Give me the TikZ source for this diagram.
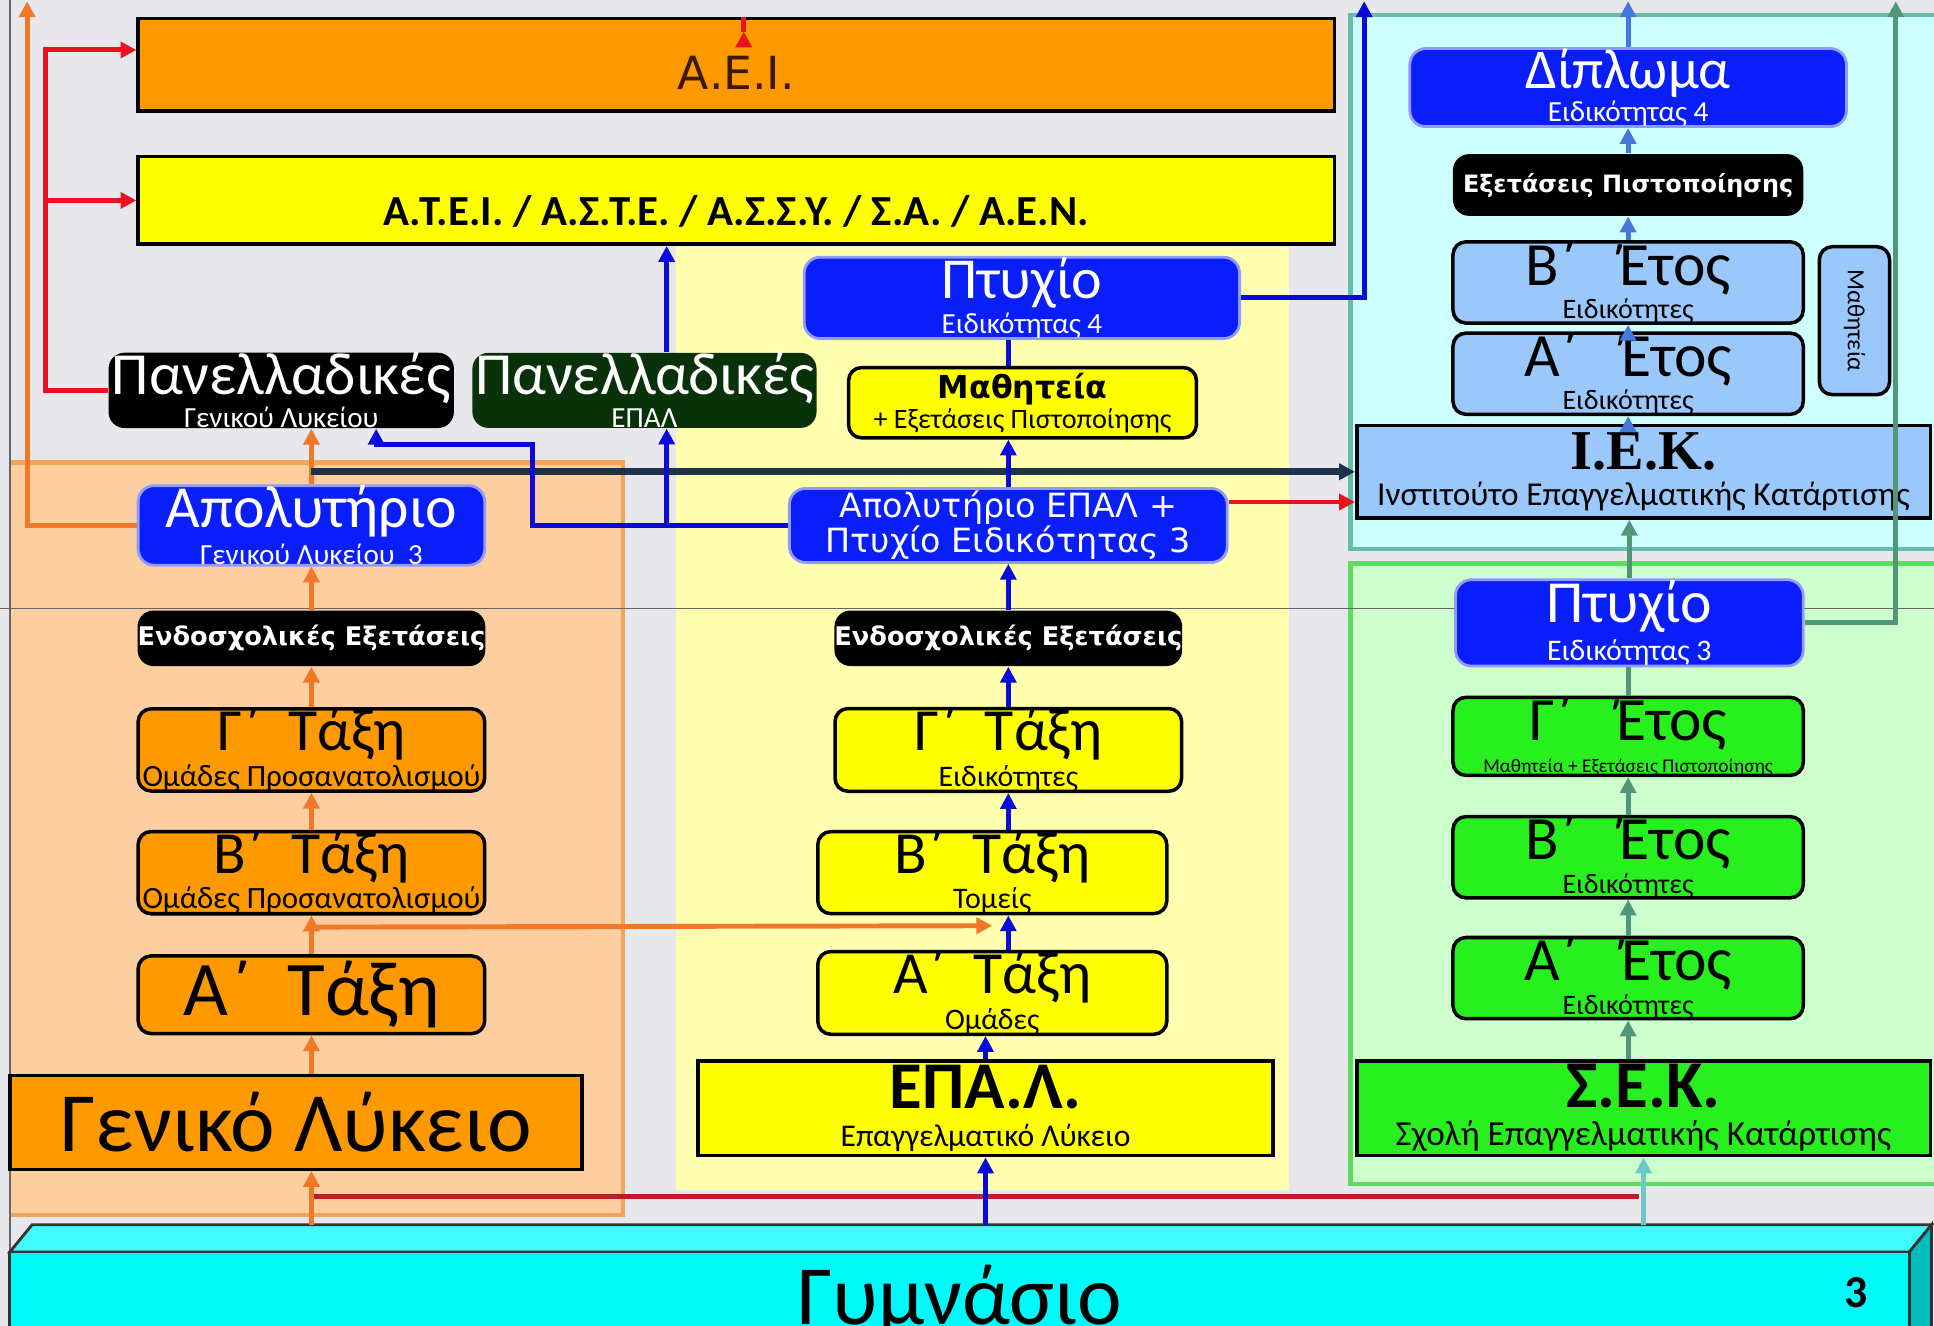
\documentclass[tikz,border=0pt]{standalone}
\usepackage{fontspec}
\setmainfont{Carlito}
\newfontfamily\dejavu{DejaVu Sans}
\newfontfamily\serifb{Liberation Serif}
\usetikzlibrary{positioning,calc,arrows.meta}

\definecolor{bgray}{RGB}{232,232,236}
\definecolor{peach}{RGB}{252,206,160}
\definecolor{peachedge}{RGB}{240,165,90}
\definecolor{lyellow}{RGB}{255,255,175}
\definecolor{lcyan}{RGB}{205,255,255}
\definecolor{cyanedge}{RGB}{100,190,170}
\definecolor{lgreen}{RGB}{205,255,205}
\definecolor{greenedge}{RGB}{95,220,95}
\definecolor{boxorange}{RGB}{255,153,0}
\definecolor{boxyellow}{RGB}{255,255,0}
\definecolor{boxblue}{RGB}{10,30,250}
\definecolor{boxgreen}{RGB}{40,240,30}
\definecolor{boxlblue}{RGB}{155,200,250}
\definecolor{pangreen}{RGB}{10,50,10}
\definecolor{arrorange}{RGB}{240,120,40}
\definecolor{arrblue}{RGB}{10,10,220}
\definecolor{arrred}{RGB}{230,20,30}
\definecolor{arrnavy}{RGB}{30,50,75}
\definecolor{arrteal}{RGB}{80,150,120}
\definecolor{arrsky}{RGB}{70,120,220}
\definecolor{arrlteal}{RGB}{110,200,200}
\definecolor{gymcyan}{RGB}{0,250,250}
\definecolor{rline}{RGB}{190,30,40}

\def\ux{0.12334mm}
\newcommand{\fs}[1]{\fontsize{#1}{#1}\selectfont}

\tikzset{
  base/.style={inner sep=0pt, align=center, font=\fs{9}},
  sz/.style 2 args={minimum width=#1*\ux, minimum height=#2*\ux},
  sq/.style={base, draw=black, line width=1pt},
  rb/.style={sq, rounded corners=1.3mm},
  bluebox/.style={base, fill=boxblue, draw=white!55!boxblue, line width=0.8pt, rounded corners=1.6mm, text=white},
  blackbox/.style={base, fill=black, rounded corners=1.6mm, text=white},
  low/.style={text height=14pt, text depth=0pt},
  arr/.style={line width=1.4pt, -{Triangle[length=4.5pt,width=4.5pt]}},
  oarr/.style={arr, arrorange},
  barr/.style={arr, arrblue},
  rarr/.style={arr, arrred},
  narr/.style={arr, arrnavy, line width=2pt},
  tarr/.style={arr, arrteal},
  sarr/.style={arr, arrsky},
  larr/.style={arr, arrlteal},
}

\begin{document}
\begin{tikzpicture}[x=0.12334mm, y=-0.12334mm]
\clip (0,0) rectangle (1568,1075);
% background and coloured regions
\fill[bgray] (0,0) rectangle (1568,1075);
\fill[peach] (8,375) rectangle (505,985);
\draw[peachedge, line width=1.2pt] (8,375) -- (505,375) -- (505,985) -- (8,985);
\fill[lyellow] (548,200) rectangle (1045,965);
\filldraw[fill=lcyan, draw=cyanedge, line width=1.3pt] (1095,12) rectangle (1575,445);
\filldraw[fill=lgreen, draw=greenedge, line width=1.3pt] (1095,457) rectangle (1575,960);
\draw[black!60, very thin] (0,493) -- (1568,493);
\draw[black!60, thin] (8,0) -- (8,1075);

% Gymnasio block
\filldraw[fill=gymcyan!75!white, draw=black!80, line width=0.8pt] (8,1015) -- (26,993) -- (1566,993) -- (1548,1015) -- cycle;
\filldraw[fill=gymcyan!75!black, draw=black!80, line width=0.8pt] (1548,1015) -- (1566,993) -- (1566,1085) -- (1548,1085) -- cycle;
\node[sq, fill=gymcyan, draw=black!80, line width=0.8pt, sz={1540}{70}, text height=17pt, text depth=0pt] (gym) at (778,1050) {\fs{24}Γυμνάσιο};
\coordinate (gymtop) at (26,993);
\node[font=\bfseries\fs{13}] (page) at (1505,1048) {3};

% top
\node[sq, fill=boxorange, sz={970}{75}, low, text={rgb,255:red,60;green,25;blue,0}] (aei) at (597,52.5) {\dejavu\fs{13}Α.Ε.Ι.};
\node[sq, fill=boxyellow, sz={970}{71}, low] (atei) at (597,162.5) {\bfseries\fs{12.2}Α.Τ.Ε.Ι. / Α.Σ.Τ.Ε. / Α.Σ.Σ.Υ. / Σ.Α. / Α.Ε.Ν.};

\coordinate (rl) at ($(gymtop -| aei.west)+(140,-23)$);
\draw[rline, line width=1.5pt] (rl) -- ++(1078,0);

% Geniko Lykeio
\node[blackbox, sz={280}{57}] (pgl) at (228,316.5) {{\fs{17}Πανελλαδικές}\\[0.4pt]{\fs{8.3}Γενικού Λυκείου}};
\node[blackbox, fill=pangreen, sz={279}{57}] (pepal) at (522.5,316.5) {{\fs{17}Πανελλαδικές}\\[0.4pt]{\fs{8.3}ΕΠΑΛ}};
\node[bluebox, sz={281}{60}] (apgl) at (252.5,426) {{\fs{17}Απολυτήριο}\\[1.6pt]{\fs{8.3}Γενικού Λυκείου \ 3}};
\node[blackbox, sz={281}{45}] (endgl) at (252.5,517.5) {\dejavu\bfseries\fs{7.3}Ενδοσχολικές Εξετάσεις};
\node[rb, fill=boxorange, sz={281}{60}] (gtgl) at (252.5,608) {{\fs{17}Γ΄\ \ Τάξη}\\[1pt]{\fs{8.8}Ομάδες Προσανατολισμού}};
\node[rb, fill=boxorange, sz={281}{61}] (btgl) at (252.5,707.5) {{\fs{17}Β΄\ \ Τάξη}\\[1pt]{\fs{8.8}Ομάδες Προσανατολισμού}};
\node[rb, fill=boxorange, sz={281}{63}] (atgl) at (252.5,806.5) {\fs{22}Α΄\ \ Τάξη};
\node[sq, fill=boxorange, sz={464}{76}] (gl) at (240,910) {\fs{24}Γενικό Λύκειο};

% EPAL
\node[bluebox, sz={353}{57}] (pt4) at (828.5,241.5) {{\fs{16.5}Πτυχίο}\\[1.2pt]{\fs{8.3}Ειδικότητας 4}};
\node[rb, fill=boxyellow, sz={282}{57}] (math) at (829,326.5) {{\dejavu\bfseries\fs{9}Μαθητεία}\\[-0.5pt]{\fs{8}+ Εξετάσεις Πιστοποίησης}};
\node[bluebox, sz={355}{60}, font=\dejavu\fs{9.5}] (apepal) at (817.5,426) {Απολυτήριο ΕΠΑΛ +\\[-0.5pt]Πτυχίο Ειδικότητας 3};
\node[blackbox, sz={281}{45}] (endep) at (817.5,517.5) {\dejavu\bfseries\fs{7.3}Ενδοσχολικές Εξετάσεις};
\node[rb, fill=boxyellow, sz={281}{60}] (gtep) at (817.5,608) {{\fs{17}Γ΄\ \ Τάξη}\\[1.2pt]{\fs{8.5}Ειδικότητες}};
\node[rb, fill=boxyellow, sz={283}{61}] (btep) at (804.5,707.5) {{\fs{17}Β΄\ \ Τάξη}\\[1pt]{\fs{8.5}Τομείς}};
\node[rb, fill=boxyellow, sz={283}{60}] (atep) at (804.5,805) {{\fs{17}Α΄\ \ Τάξη}\\[1.2pt]{\fs{8.5}Ομάδες}};
\node[sq, fill=boxyellow, sz={466}{77}] (epal) at (799,898.5) {{\bfseries\fs{19}ΕΠΑ.Λ.}\\[1.8pt]{\fs{9}Επαγγελματικό Λύκειο}};

% IEK
\node[bluebox, sz={354}{58}] (dipl) at (1320,71) {{\fs{16}Δίπλωμα}\\[0.6pt]{\fs{8.3}Ειδικότητας 4}};
\node[blackbox, sz={284}{50}] (exam) at (1320,150) {\dejavu\bfseries\fs{6.8}Εξετάσεις Πιστοποίησης};
\node[rb, fill=boxlblue, sz={284}{58}] (betos) at (1320,229) {{\fs{17.5}Β΄\ \ \ Έτος}\\[0.5pt]{\fs{8}Ειδικότητες}};
\node[rb, fill=boxlblue, sz={284}{60}] (aetos) at (1320,303) {{\fs{17.5}Α΄\ \ \ Έτος}\\[0.5pt]{\fs{8}Ειδικότητες}};
\node[rb, fill=boxlblue, sz={120}{57}, rotate=-90] (mathv) at (1503.5,260) {\fs{7}Μαθητεία};
\node[sq, fill=boxlblue, sz={465}{75}] (iek) at (1332.5,382.5) {{\serifb\bfseries\fs{16}Ι.Ε.Κ.}\\[1pt]{\fs{9.5}Ινστιτούτο Επαγγελματικής Κατάρτισης}};

% SEK
\node[bluebox, sz={282}{70}] (pt3) at (1321,505) {{\fs{17}Πτυχίο}\\[2pt]{\fs{8.5}Ειδικότητας 3}};
\node[rb, fill=boxgreen, sz={284}{60}] (gsek) at (1320,597) {{\fs{17.5}Γ΄\ \ \ Έτος}\\[0pt]{\fs{5.5}Μαθητεία + Εξετάσεις Πιστοποίησης}};
\node[rb, fill=boxgreen, sz={284}{60}] (bsek) at (1320,695) {{\fs{17.5}Β΄\ \ \ Έτος}\\[0.5pt]{\fs{8}Ειδικότητες}};
\node[rb, fill=boxgreen, sz={284}{60}] (asek) at (1320,793) {{\fs{17.5}Α΄\ \ \ Έτος}\\[0.5pt]{\fs{8}Ειδικότητες}};
\node[sq, fill=boxgreen, sz={465}{77}] (sek) at (1332.5,898.5) {{\bfseries\fs{19}Σ.Ε.Κ.}\\[1.8pt]{\fs{10}Σχολή Επαγγελματικής Κατάρτισης}};

% exits at the top
\coordinate (topL) at (22,1);
\coordinate (topB) at (1106,1);
\coordinate (topG) at (1537,1);
\coordinate (rj) at ($(aei.west)+(-74,-12)$);

% Geniko Lykeio arrows
\draw[oarr] (gymtop -| atgl) -- (gl.south -| atgl);
\draw[oarr] (gl.north -| atgl) -- (atgl.south);
\draw[oarr] (atgl.north) -- (btgl.south);
\draw[oarr] (btgl.north) -- (gtgl.south);
\draw[oarr] (gtgl.north) -- (endgl.south);
\draw[oarr] (endgl.north) -- (apgl.south);
\draw[oarr] (apgl.north) -- (apgl.north |- pgl.south);
\draw[oarr] ($(btgl.south)!.3!(atgl.north)$) -- ($(btep.south)!.3!(atep.north)$);
\draw[oarr] (apgl.west) -| (topL);
\draw[rarr] (pgl.west) -| (rj) -- (rj -| aei.west);
\draw[rarr] (rj |- atei.west) -- (atei.west);
\draw[rarr] ($(aei.north)+(6,12)$) -- ($(aei.north)+(6,12)$ |- topB);
\draw[narr] (apgl.north |- iek.west) -- (iek.west);

% EPAL arrows
\coordinate (pe) at ($(pepal.south)+(18,0)$);
\coordinate (pn) at ($(pepal.north)+(18,0)$);
\draw[barr] (apepal.west) -| ($(pgl.south)+(204,13)$) -| ($(pgl.south)+(77,0)$);
\draw[barr] (pe |- apepal.west) -- (pe);
\draw[barr] (pn) -- (pn |- atei.south);
\draw[barr] (gymtop -| epal) -- (epal.south);
\draw[barr] (epal.north) -- (epal.north |- atep.south);
\draw[barr] (atep.north -| gtep) -- (btep.south -| gtep);
\draw[barr] (btep.north -| gtep) -- (gtep.south);
\draw[barr] (gtep.north) -- (endep.south);
\draw[barr] (endep.north) -- (apepal.south);
\draw[barr] (apepal.north -| endep) -- (math.south -| endep);
\draw[arrblue, line width=1.4pt] (math.north -| endep) -- (pt4.south -| endep);
\draw[barr] (pt4.east) -| (topB);
\draw[rarr] ($(apepal.east)+(0,-19)$) -- ($(iek.west)+(0,24.5)$);

% IEK / SEK arrows
\draw[larr] (gymtop -| sek) -- (sek.south);
\draw[tarr] (sek.north -| asek) -- (asek.south);
\draw[tarr] (asek.north) -- (bsek.south);
\draw[tarr] (bsek.north) -- (gsek.south);
\draw[arrteal, line width=1.4pt] (gsek.north) -- (pt3.south -| gsek);
\draw[tarr] (pt3.north) -- (pt3.north |- iek.south);
\draw[tarr] (pt3.east) -| (topG);
\draw[sarr] (iek.north -| aetos) -- (aetos.south);
\draw[sarr] (aetos.north) -- (betos.south);
\draw[sarr] (betos.north) -- (exam.south);
\draw[sarr] (exam.north) -- (dipl.south);
\draw[sarr] (dipl.north) -- (dipl.north |- topB);
\end{tikzpicture}
\end{document}
